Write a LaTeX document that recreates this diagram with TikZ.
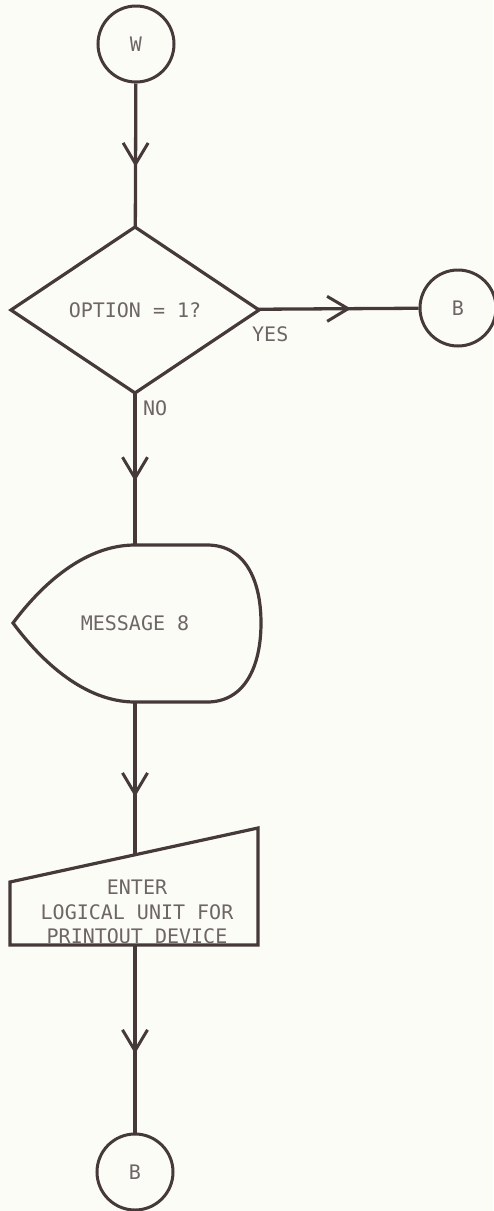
\documentclass[tikz,border=0pt]{standalone}
\usepackage{fontspec}
\newfontfamily\chartfont{DejaVu Sans Mono}
\usetikzlibrary{arrows.meta,shapes.geometric,decorations.markings}
\definecolor{ink}{HTML}{45393A}
\definecolor{txt}{HTML}{6E6666}
\definecolor{paper}{HTML}{FCFCF6}
\tikzset{
  connector/.style={circle,draw=ink,line width=3pt,minimum size=76pt,inner sep=0pt},
  flowline/.style={draw=ink,line width=3.3pt},
  flowarrow/.style={postaction={decorate},decoration={markings,
      mark=at position #1 with {\arrow[ink,line width=3pt]{Straight Barb[length=21pt,width=25pt]}}}},
  flowarrow/.default=0.58,
  lbl/.style={inner sep=0pt}
}

\begin{document}
\begin{tikzpicture}[x=1pt,y=-1pt,font=\chartfont\fontsize{20}{24.5}\selectfont,text=txt]
			% page
			\fill[paper] (0,0) rectangle (493,1211);
			\useasboundingbox (0,0) rectangle (493,1211);
			% connectors and decision
			\node[connector] (w) at (136,44) {W};
			\node[diamond,draw=ink,line width=3.2pt,minimum width=248pt,minimum height=166pt,inner sep=0pt,outer sep=0pt] (opt) at (135,310) {OPTION = 1?};
			\node[connector] (bright) at (458,308) {B};
			\node[lbl,anchor=north west] (yes) at ([xshift=-7pt,yshift=-16pt]opt.east) {YES};
			\node[lbl,anchor=north west] (no) at ([xshift=8pt,yshift=-7pt]opt.south) {NO};
			% display
			\node (msg) at (135,623) {MESSAGE 8};
			\coordinate (msgtop) at (135,545);
			\coordinate (msgbot) at (135,702);
			\draw[ink,line width=3.2pt] (msgtop) -- (207,545) .. controls (245,545) and (261,580) .. (261,623)
				.. controls (261,666) and (245,702) .. (207,702) -- (msgbot)
				.. controls (85,702) and (42,662) .. (13,623) .. controls (42,584) and (85,545) .. (msgtop) -- cycle;
			% manual input
			\draw[ink,line width=3.2pt] (10,882) -- (258,828) -- (258,945) -- (10,945) -- cycle;
			\coordinate (inptop) at (135,855);
			\coordinate (inpbot) at (135,945);
			\node[align=center] (inp) at (137,912) {ENTER\\LOGICAL UNIT FOR\\PRINTOUT DEVICE};
			\node[connector] (bbot) at (135,1172) {B};
			% flow
			\draw[flowline,flowarrow] (w) -- (opt);
			\draw[flowline,flowarrow] (opt) -- (bright);
			\draw[flowline,flowarrow] (opt.south) -- (msgtop);
			\draw[flowline,flowarrow=0.62] (msgbot) -- (inptop);
			\draw[flowline,flowarrow] (inpbot) -- (bbot);
		\end{tikzpicture}
\end{document}
